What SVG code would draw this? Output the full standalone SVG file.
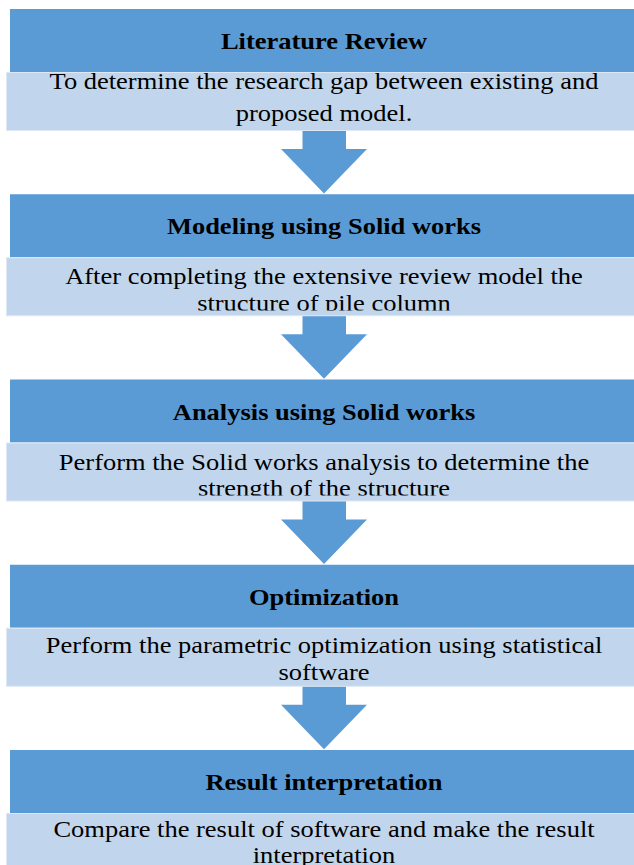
<svg xmlns="http://www.w3.org/2000/svg" width="634" height="865" viewBox="0 0 634 865">
<style>
.hd{fill:#5B9BD5;}
.lt{fill:#C1D6EC;stroke:#DCE8F5;stroke-width:1;}
.ar{fill:#5B9BD5;}
.h{font-family:"Liberation Serif","Times New Roman",serif;font-weight:bold;font-size:24px;fill:#000;text-anchor:middle;}
.b{font-family:"Liberation Serif","Times New Roman",serif;font-size:24px;fill:#000;text-anchor:middle;}
</style>
<defs>
<clipPath id="c2"><rect x="-400" y="250" width="800" height="60.5"/></clipPath>
<clipPath id="c3"><rect x="-400" y="440" width="800" height="55.5"/></clipPath>
</defs>
<rect width="634" height="865" fill="#fff"/>
<g id="connectors">
<path class="ar" d="M302.5 130.5H346V149H367L324 193.5L281 149H302.5Z"/>
<path class="ar" d="M302.5 130.5H346V149H367L324 193.5L281 149H302.5Z" transform="translate(0,185.25)"/>
<path class="ar" d="M302.5 130.5H346V149H367L324 193.5L281 149H302.5Z" transform="translate(0,370.5)"/>
<path class="ar" d="M302.5 130.5H346V149H367L324 193.5L281 149H302.5Z" transform="translate(0,555.75)"/>
</g>
<g id="node1">
<rect class="hd" x="10" y="9" width="630" height="63"/>
<rect class="lt" x="6.5" y="72.5" width="640" height="58"/>
<g transform="translate(324,0) scale(1.104,1)">
<text class="h" x="0" y="49.3">Literature Review</text>
<text class="b" x="0" y="89.3">To determine the research gap between existing and</text>
<text class="b" x="0" y="121">proposed model.</text>
</g>
</g>
<g id="node2">
<rect class="hd" x="10" y="194.25" width="630" height="63"/>
<rect class="lt" x="6.5" y="257.75" width="640" height="58"/>
<g transform="translate(324,0) scale(1.104,1)">
<text class="h" x="0" y="234.5">Modeling using Solid works</text>
<g clip-path="url(#c2)">
<text class="b" x="0" y="284.3">After completing the extensive review model the</text>
<text class="b" x="0" y="311.5">structure of pile column</text>
</g>
</g>
</g>
<g id="node3">
<rect class="hd" x="10" y="379.5" width="630" height="63"/>
<rect class="lt" x="6.5" y="443" width="640" height="58"/>
<g transform="translate(324,0) scale(1.104,1)">
<text class="h" x="0" y="419.8">Analysis using Solid works</text>
<g clip-path="url(#c3)">
<text class="b" x="0" y="469.6">Perform the Solid works analysis to determine the</text>
<text class="b" x="0" y="496.5">strength of the structure</text>
</g>
</g>
</g>
<g id="node4">
<rect class="hd" x="10" y="564.75" width="630" height="63"/>
<rect class="lt" x="6.5" y="628.25" width="640" height="58"/>
<g transform="translate(324,0) scale(1.104,1)">
<text class="h" x="0" y="605">Optimization</text>
<text class="b" x="0" y="653.5">Perform the parametric optimization using statistical</text>
<text class="b" x="0" y="680">software</text>
</g>
</g>
<g id="node5">
<rect class="hd" x="10" y="750" width="630" height="63"/>
<rect class="lt" x="6.5" y="813.5" width="640" height="58"/>
<g transform="translate(324,0) scale(1.104,1)">
<text class="h" x="0" y="790.3">Result interpretation</text>
<text class="b" x="0" y="837.5">Compare the result of software and make the result</text>
<text class="b" x="0" y="863">interpretation</text>
</g>
</g>
</svg>
